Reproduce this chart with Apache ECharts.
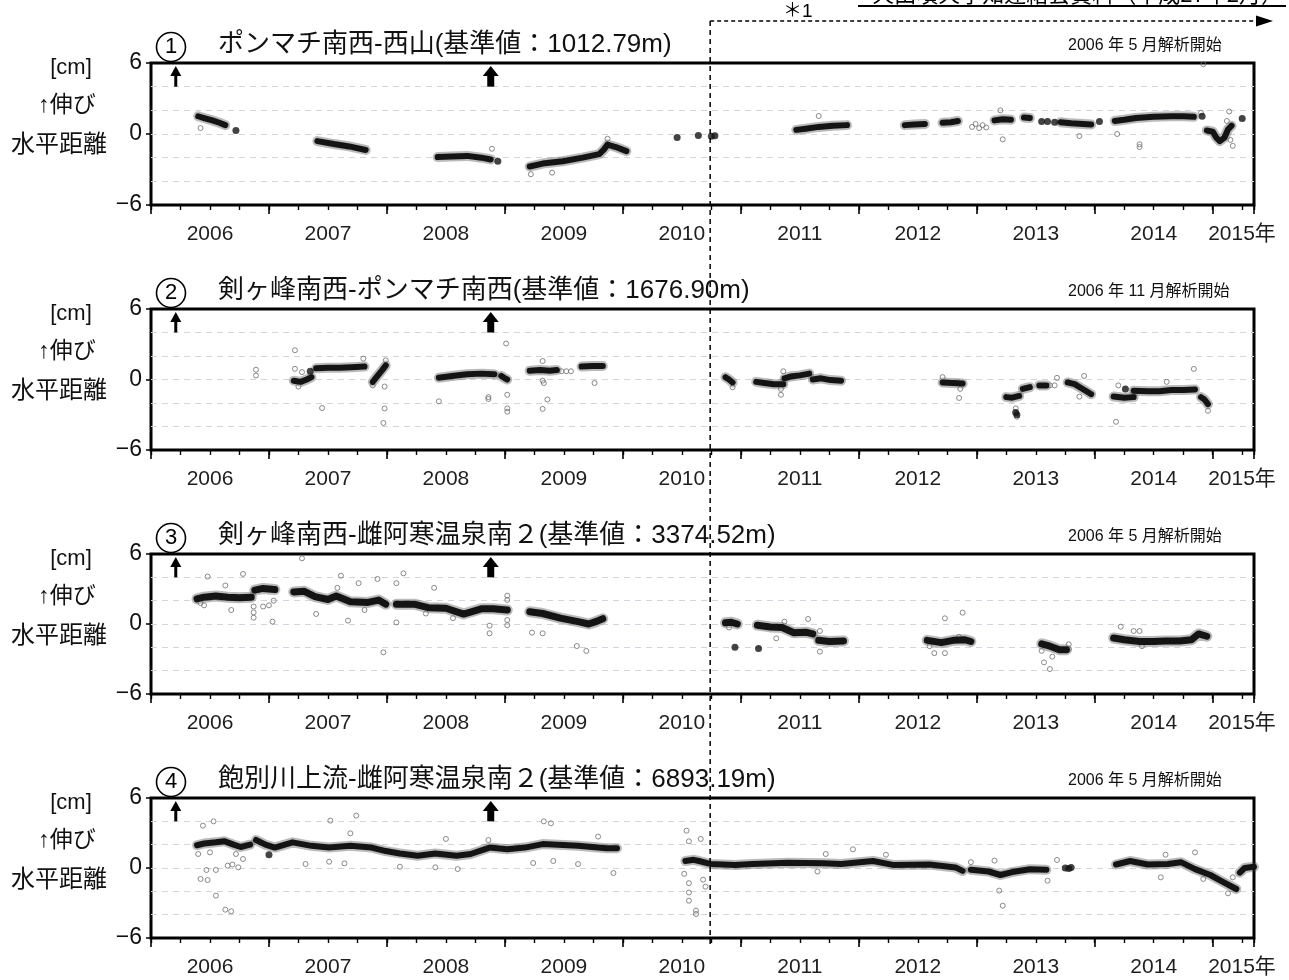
<!DOCTYPE html>
<html>
<head>
<meta charset="utf-8">
<script src="https://cdn.jsdelivr.net/npm/echarts@6/dist/echarts.min.js"></script>
<style>
  html, body { margin: 0; padding: 0; background: #fff; }
  #c { width: 1289px; height: 980px; }
</style>
</head>
<body>
<div id="c"></div>
<script>
// ---- time range and value range ----
const YEAR_MIN = 2006;
const YEAR_MAX = 2015.35;
const Y_MIN = -6;
const Y_MAX = 6;
const YEAR_LABELS = ['2006', '2007', '2008', '2009', '2010', '2011', '2012', '2013', '2014', '2015年'];

// equipment events (arrows) and the start of the new analysis (*1)
const EVENT_YEARS = [2006.21, 2008.88];
const ARROW_BASE = 4.0;
const BOUNDARY_YEAR = 2010.74;

// ---- baseline titles ----
const PANEL_NUMBERS = ['1', '2', '3', '4'];
const PANEL_TITLES = [
  'ポンマチ南西-西山(基準値：1012.79m)',
  '剣ヶ峰南西-ポンマチ南西(基準値：1676.90m)',
  '剣ヶ峰南西-雌阿寒温泉南２(基準値：3374.52m)',
  '飽別川上流-雌阿寒温泉南２(基準値：6893.19m)'
];
const PANEL_NOTES = ['2006 年 5 月解析開始', '2006 年 11 月解析開始', '2006 年 5 月解析開始', '2006 年 5 月解析開始'];

// ---- ① ポンマチ南西-西山 : dense runs, single dots, scattered solutions [year, cm] ----
const P1_RUNS = [
  [[2006.40, 1.5], [2006.45, 1.35], [2006.52, 1.15], [2006.58, 0.95], [2006.63, 0.75]],
  [[2007.41, -0.6], [2007.55, -0.85], [2007.68, -1.05], [2007.82, -1.35]],
  [[2008.43, -1.95], [2008.55, -1.9], [2008.68, -1.85], [2008.8, -2.0], [2008.88, -2.15]],
  [[2009.21, -2.75], [2009.32, -2.5], [2009.49, -2.3], [2009.66, -2.0], [2009.8, -1.7], [2009.84, -1.3], [2009.87, -0.9], [2009.94, -1.1], [2010.03, -1.45]],
  [[2011.47, 0.35], [2011.55, 0.45], [2011.66, 0.6], [2011.78, 0.7], [2011.9, 0.75]],
  [[2012.39, 0.75], [2012.47, 0.8], [2012.56, 0.85]],
  [[2012.71, 0.95], [2012.78, 1.0], [2012.84, 1.1]],
  [[2013.15, 1.15], [2013.22, 1.25], [2013.29, 1.2]],
  [[2013.40, 1.4], [2013.45, 1.35]],
  [[2013.71, 1.0], [2013.8, 0.9], [2013.9, 0.85], [2013.97, 0.8]],
  [[2014.17, 1.1], [2014.25, 1.2], [2014.35, 1.35], [2014.5, 1.45], [2014.65, 1.5], [2014.75, 1.5], [2014.84, 1.45]],
  [[2014.95, 0.3], [2015.0, 0.2], [2015.03, -0.3], [2015.06, -0.6], [2015.1, -0.3], [2015.13, 0.4], [2015.16, 0.7]]
];
const P1_DOTS = [[2006.72, 0.3], [2008.94, -2.3], [2010.46, -0.3], [2010.64, -0.12], [2010.75, -0.2], [2010.78, -0.15],
  [2013.55, 1.05], [2013.6, 1.05], [2013.66, 1.0], [2014.04, 1.05], [2014.91, 1.5], [2015.25, 1.3]];
const P1_SCATTER = [[2006.42, 0.5], [2008.89, -1.25], [2009.22, -3.4], [2009.4, -3.27], [2009.87, -0.4], [2011.66, 1.52],
  [2012.96, 0.6], [2012.99, 0.85], [2013.02, 0.5], [2013.05, 0.75], [2013.08, 0.55], [2013.2, 2.0], [2013.22, -0.45],
  [2013.87, -0.17], [2014.19, 0.0], [2014.38, -0.87], [2014.38, -1.1], [2014.92, 5.9], [2014.9, 1.8], [2015.14, 1.9],
  [2015.17, -1.0], [2015.15, -0.5], [2015.12, 1.1]];

// ---- ② 剣ヶ峰南西-ポンマチ南西 ----
const P2_RUNS = [
  [[2007.21, -0.1], [2007.27, -0.2], [2007.32, 0.0], [2007.36, 0.2]],
  [[2007.40, 0.95], [2007.5, 1.0], [2007.6, 1.0], [2007.7, 1.05], [2007.81, 1.1]],
  [[2007.88, -0.2], [2007.92, 0.3], [2007.96, 0.8], [2007.99, 1.2]],
  [[2008.44, 0.15], [2008.55, 0.3], [2008.68, 0.45], [2008.8, 0.5], [2008.91, 0.45]],
  [[2008.97, 0.3], [2009.0, 0.1], [2009.02, 0.0]],
  [[2009.21, 0.75], [2009.3, 0.8], [2009.38, 0.75], [2009.44, 0.8]],
  [[2009.65, 1.1], [2009.74, 1.15], [2009.83, 1.15]],
  [[2010.87, 0.2], [2010.9, 0.0], [2010.93, -0.25]],
  [[2011.13, -0.2], [2011.2, -0.3], [2011.28, -0.4], [2011.36, -0.4]],
  [[2011.37, 0.1], [2011.42, 0.25], [2011.5, 0.35], [2011.58, 0.5]],
  [[2011.61, 0.0], [2011.68, 0.1], [2011.76, -0.05], [2011.85, -0.1]],
  [[2012.71, -0.25], [2012.8, -0.3], [2012.88, -0.35]],
  [[2013.25, -1.5], [2013.3, -1.55], [2013.36, -1.4]],
  [[2013.39, -0.8], [2013.45, -0.65]],
  [[2013.53, -0.5], [2013.59, -0.5]],
  [[2013.77, -0.25], [2013.83, -0.4], [2013.88, -0.7], [2013.93, -1.0], [2013.97, -1.25]],
  [[2014.16, -1.45], [2014.25, -1.55], [2014.33, -1.5]],
  [[2014.33, -0.95], [2014.45, -1.0], [2014.55, -1.0], [2014.65, -0.9], [2014.75, -0.9], [2014.85, -0.85]],
  [[2014.9, -1.5], [2014.93, -1.7], [2014.96, -2.1]]
];
const P2_DOTS = [[2007.35, 0.7], [2013.33, -2.8], [2013.34, -3.0], [2014.26, -0.8]];
const P2_SCATTER = [[2006.89, 0.83], [2006.89, 0.34], [2007.22, 2.49], [2007.22, 0.91], [2007.28, 0.63], [2007.25, -0.6],
  [2007.45, -2.43], [2007.8, 1.77], [2007.88, -0.5], [2007.98, -0.6], [2007.99, 1.63], [2007.97, -3.7], [2007.98, -2.46],
  [2008.44, -1.86], [2008.86, -1.66], [2008.86, -1.5], [2009.01, 3.06], [2009.02, -1.3], [2009.02, -2.46], [2009.02, -2.74],
  [2009.32, -0.1], [2009.33, -0.3], [2009.36, -1.7], [2009.32, -2.5], [2009.32, 1.57], [2009.48, 0.7], [2009.52, 0.7],
  [2009.56, 0.7], [2009.76, -0.3], [2010.93, -0.66], [2011.34, -1.3], [2011.34, -0.8], [2011.36, 0.7], [2012.71, 0.2],
  [2012.85, -1.57], [2012.86, -0.8], [2013.33, -2.46], [2013.34, -3.17], [2013.62, -0.5], [2013.66, -0.5], [2013.68, 0.14],
  [2013.91, 0.3], [2013.87, -1.46], [2014.18, -3.6], [2014.2, -0.5], [2014.61, -0.2], [2014.84, 0.9], [2014.96, -2.66]];

// ---- ③ 剣ヶ峰南西-雌阿寒温泉南２ ----
const P3_RUNS = [
  [[2006.39, 2.15], [2006.45, 2.3], [2006.55, 2.4], [2006.65, 2.3], [2006.75, 2.25], [2006.85, 2.3]],
  [[2006.88, 2.9], [2006.95, 3.05], [2007.05, 2.95]],
  [[2007.21, 2.75], [2007.3, 2.8], [2007.39, 2.35], [2007.5, 2.1], [2007.57, 2.4], [2007.69, 1.9], [2007.84, 1.85], [2007.93, 2.05], [2007.99, 1.7]],
  [[2008.08, 1.7], [2008.23, 1.7], [2008.35, 1.4], [2008.5, 1.35], [2008.65, 0.85], [2008.8, 1.3], [2008.9, 1.3], [2009.02, 1.2]],
  [[2009.21, 1.05], [2009.32, 0.9], [2009.47, 0.5], [2009.62, 0.2], [2009.71, 0.0], [2009.77, 0.2], [2009.83, 0.45]],
  [[2010.87, 0.1], [2010.92, 0.15], [2010.97, 0.0]],
  [[2011.14, -0.1], [2011.25, -0.25], [2011.35, -0.3], [2011.45, -0.75], [2011.55, -0.7], [2011.61, -0.85]],
  [[2011.66, -1.4], [2011.75, -1.5], [2011.87, -1.45]],
  [[2012.58, -1.4], [2012.7, -1.6], [2012.8, -1.4], [2012.9, -1.35], [2012.95, -1.5]],
  [[2013.55, -1.7], [2013.62, -1.9], [2013.7, -2.2], [2013.76, -2.2]],
  [[2014.16, -1.2], [2014.25, -1.35], [2014.38, -1.5], [2014.5, -1.5], [2014.6, -1.45], [2014.72, -1.45], [2014.82, -1.35], [2014.88, -0.85], [2014.95, -1.05]]
];
const P3_DOTS = [[2010.95, -2.0], [2011.15, -2.1]];
const P3_SCATTER = [[2006.48, 4.06], [2006.78, 4.29], [2006.63, 3.3], [2006.45, 1.6], [2006.68, 1.2], [2006.87, 1.5],
  [2006.87, 1.0], [2006.87, 0.54], [2007.03, 0.2], [2007.0, 1.6], [2006.95, 1.5], [2007.04, 2.0], [2006.42, 1.8],
  [2007.28, 5.63], [2007.61, 4.14], [2007.58, 3.1], [2007.76, 3.5], [2007.92, 3.86], [2007.4, 0.86], [2007.67, 0.29],
  [2007.97, -2.43], [2007.81, 1.2], [2008.14, 4.34], [2008.08, 3.5], [2008.4, 3.1], [2008.08, 0.14], [2008.87, -0.8],
  [2008.87, -0.14], [2009.02, 2.43], [2009.02, 2.06], [2009.02, 0.34], [2009.02, -0.1], [2008.56, 0.5], [2008.33, 0.9],
  [2009.23, -0.74], [2009.32, -0.8], [2009.61, -1.89], [2009.69, -2.31], [2010.9, -0.3], [2011.57, 0.43], [2011.37, 0.2],
  [2011.3, -1.23], [2011.67, -0.6], [2011.67, -2.37], [2012.73, 0.49], [2012.88, 0.97], [2012.64, -2.5], [2012.73, -2.5],
  [2012.6, -1.9], [2012.85, -1.1], [2013.57, -3.29], [2013.62, -3.86], [2013.64, -2.8], [2013.78, -1.74], [2013.78, -2.14],
  [2013.55, -2.3], [2014.22, -0.23], [2014.33, -0.6], [2014.38, -0.6], [2014.4, -1.9]];

// ---- ④ 飽別川上流-雌阿寒温泉南２ ----
const P4_RUNS = [
  [[2006.39, 1.95], [2006.45, 2.1], [2006.55, 2.2], [2006.62, 2.3], [2006.7, 2.0], [2006.76, 1.8], [2006.84, 2.0]],
  [[2006.89, 2.4], [2006.97, 2.0], [2007.05, 1.75], [2007.2, 2.2], [2007.36, 1.9], [2007.51, 1.75], [2007.69, 1.9],
   [2007.87, 1.75], [2007.99, 1.45], [2008.11, 1.25], [2008.26, 1.05], [2008.41, 1.25], [2008.59, 1.05], [2008.71, 1.2],
   [2008.87, 1.75], [2009.02, 1.6], [2009.17, 1.75], [2009.32, 2.05], [2009.62, 1.9], [2009.86, 1.7], [2009.95, 1.7]],
  [[2010.53, 0.6], [2010.6, 0.7], [2010.645, 0.6], [2010.74, 0.35], [2010.95, 0.25], [2011.1, 0.35], [2011.4, 0.45],
   [2011.7, 0.4], [2011.85, 0.35], [2012.12, 0.6], [2012.3, 0.25], [2012.6, 0.3], [2012.82, 0.05], [2012.88, -0.25]],
  [[2012.95, -0.15], [2013.1, -0.3], [2013.2, -0.6], [2013.3, -0.35], [2013.45, -0.1], [2013.59, -0.15]],
  [[2014.18, 0.3], [2014.3, 0.6], [2014.45, 0.3], [2014.62, 0.35], [2014.73, 0.5], [2014.85, -0.1], [2014.98, -0.6],
   [2015.07, -1.1], [2015.2, -1.8]],
  [[2015.23, -0.4], [2015.27, 0.0], [2015.35, 0.1]]
];
const P4_DOTS = [[2013.75, 0.0], [2013.78, -0.05], [2013.8, 0.05], [2007.0, 1.14]];
const P4_SCATTER = [[2006.44, 3.63], [2006.53, 4.0], [2006.4, 1.2], [2006.5, 1.34], [2006.47, -0.17], [2006.55, -0.17],
  [2006.42, -0.94], [2006.48, -1.03], [2006.55, -2.37], [2006.63, -3.57], [2006.68, -3.71], [2006.65, 0.2], [2006.74, 0.06],
  [2006.72, 1.2], [2006.78, 0.77], [2006.69, 0.3], [2007.52, 4.06], [2007.74, 4.49], [2007.69, 2.97], [2009.33, 4.0],
  [2009.39, 3.83], [2008.5, 2.49], [2008.86, 2.4], [2009.79, 2.69], [2007.31, 0.34], [2007.51, 0.54], [2007.64, 0.4],
  [2008.11, 0.11], [2008.41, 0.06], [2008.6, -0.09], [2009.92, -0.43], [2009.24, 0.43], [2009.62, 0.34], [2009.41, 0.6],
  [2010.54, 3.2], [2010.56, 2.29], [2010.52, -0.5], [2010.56, -1.3], [2010.56, -2.1], [2010.56, -2.8], [2010.62, -3.66],
  [2010.62, -3.94], [2010.66, 2.49], [2010.68, -1.0], [2010.7, -1.6], [2011.72, 1.2], [2011.95, 1.6], [2012.23, 1.14],
  [2011.65, -0.3], [2012.95, 0.5], [2013.19, -1.94], [2013.22, -3.23], [2013.15, 0.63], [2013.6, -1.09], [2013.68, 0.69],
  [2014.6, 1.14], [2014.85, 1.34], [2015.13, -2.17], [2015.17, -0.8], [2014.92, -0.94], [2014.56, -0.8]];

const PANEL_DATA = [
  { runs: P1_RUNS, dots: P1_DOTS, scatter: P1_SCATTER },
  { runs: P2_RUNS, dots: P2_DOTS, scatter: P2_SCATTER },
  { runs: P3_RUNS, dots: P3_DOTS, scatter: P3_SCATTER },
  { runs: P4_RUNS, dots: P4_DOTS, scatter: P4_SCATTER }
];

// ---- layout ----
const GRID_TOPS = [63, 309, 554, 798];
const GRID_HEIGHTS = [142, 141, 140, 140];
const GRID_LEFT = 151;
const GRID_RIGHT = 35;
const RUN_WIDTHS = [6, 6, 7, 6];
const ARROW_SHAPES = [ { hw: 5.5, hh: 10, sw: 3 }, { hw: 8, hh: 10, sw: 7 } ];

const LATIN = "'Liberation Sans', Arial, Helvetica, 'Noto Sans CJK JP', sans-serif";

function yearLabel(v) {
  if (Math.abs(v - YEAR_MAX) < 1e-6) return '{last|' + YEAR_LABELS[YEAR_LABELS.length - 1] + '}';
  const frac = v - Math.floor(v);
  if (Math.abs(frac - 0.5) < 1e-6) {
    const idx = Math.floor(v) - YEAR_MIN;
    if (idx >= 0 && idx < YEAR_LABELS.length - 1) return YEAR_LABELS[idx];
  }
  return '';
}

function renderArrow(params, api) {
  const k = api.value(1);
  const s = ARROW_SHAPES[k];
  const top = api.coord([api.value(0), Y_MAX]);
  const base = api.coord([api.value(0), ARROW_BASE]);
  const x = top[0];
  const y0 = top[1] + 3;
  return {
    type: 'group',
    children: [
      { type: 'polygon', shape: { points: [[x - s.hw, y0 + s.hh], [x, y0], [x + s.hw, y0 + s.hh]] }, style: { fill: '#000' } },
      { type: 'rect', shape: { x: x - s.sw / 2, y: y0 + s.hh - 1, width: s.sw, height: base[1] - (y0 + s.hh - 1) }, style: { fill: '#000' } }
    ]
  };
}

const grids = [], xAxes = [], yAxes = [], series = [];

PANEL_DATA.forEach((pd, i) => {
  grids.push({
    left: GRID_LEFT, right: GRID_RIGHT, top: GRID_TOPS[i], height: GRID_HEIGHTS[i],
    show: true, borderColor: '#000', borderWidth: 3, backgroundColor: '#fff'
  });

  // year labels (centred on mid-year)
  xAxes.push({
    gridIndex: i, type: 'value', min: YEAR_MIN, max: YEAR_MAX, interval: 0.5, position: 'bottom',
    axisLine: { show: false, onZero: false }, axisTick: { show: false }, splitLine: { show: false },
    axisLabel: {
      show: true, margin: 19, fontSize: 21, color: '#1e1e1e', fontFamily: LATIN,
      showMinLabel: true, showMaxLabel: true, formatter: yearLabel,
      rich: { last: { fontSize: 21, color: '#1e1e1e', fontFamily: LATIN, padding: [0, 24, 0, 0] } }
    }
  });
  // long ticks at year boundaries
  xAxes.push({
    gridIndex: i, type: 'value', min: YEAR_MIN, max: YEAR_MAX, interval: 1, position: 'bottom',
    axisLine: { show: false, onZero: false }, splitLine: { show: false }, axisLabel: { show: false },
    axisTick: { show: true, length: 9, lineStyle: { color: '#000', width: 1.6 } }
  });
  // short ticks each quarter
  xAxes.push({
    gridIndex: i, type: 'value', min: YEAR_MIN, max: YEAR_MAX, interval: 0.25, position: 'bottom',
    axisLine: { show: false, onZero: false }, splitLine: { show: false }, axisLabel: { show: false },
    axisTick: { show: true, length: 5, lineStyle: { color: '#000', width: 1.4 } }
  });

  yAxes.push({
    gridIndex: i, type: 'value', min: Y_MIN, max: Y_MAX, interval: 6, position: 'left',
    axisLine: { show: false, onZero: false }, splitLine: { show: false },
    axisTick: { show: true, length: 5, lineStyle: { color: '#000', width: 1.5 } },
    axisLabel: {
      margin: 9, fontSize: 23, color: '#111', fontFamily: LATIN, padding: [8, 0, 0, 0],
      formatter: v => (v < 0 ? '\u2212' + Math.abs(v) : String(v))
    }
  });
  yAxes.push({
    gridIndex: i, type: 'value', min: Y_MIN, max: Y_MAX, interval: 2, position: 'left',
    axisLine: { show: false, onZero: false }, axisTick: { show: false }, axisLabel: { show: false },
    splitLine: { show: true, showMinLine: false, showMaxLine: false, lineStyle: { color: '#d8d2de', type: [6, 5], width: 1 } }
  });

  const xi = 3 * i, yi = 2 * i;

  series.push({
    type: 'scatter', xAxisIndex: xi, yAxisIndex: yi, data: pd.scatter, symbol: 'circle', symbolSize: 5,
    itemStyle: { color: 'rgba(255,255,255,0)', borderColor: '#6e6e6e', borderWidth: 1 },
    silent: true, animation: false, z: 2
  });
  pd.runs.forEach(run => {
    // soft halo around each dense run of daily solutions
    series.push({
      type: 'line', xAxisIndex: xi, yAxisIndex: yi, data: run, showSymbol: false, symbol: 'none',
      lineStyle: { color: 'rgba(60,60,60,0.35)', width: RUN_WIDTHS[i] + 4, cap: 'round', join: 'round' },
      silent: true, animation: false, z: 2
    });
    series.push({
      type: 'line', xAxisIndex: xi, yAxisIndex: yi, data: run, showSymbol: false, symbol: 'none',
      lineStyle: { color: '#141414', width: RUN_WIDTHS[i], cap: 'round', join: 'round' },
      silent: true, animation: false, z: 3
    });
  });
  series.push({
    type: 'scatter', xAxisIndex: xi, yAxisIndex: yi, data: pd.dots, symbol: 'circle', symbolSize: 7,
    itemStyle: { color: '#141414' }, silent: true, animation: false, z: 3
  });
  series.push({
    type: 'custom', xAxisIndex: xi, yAxisIndex: yi, data: EVENT_YEARS.map((x, k) => [x, k]),
    renderItem: renderArrow, silent: true, animation: false, z: 6, clip: false
  });
});

const chart = echarts.init(document.getElementById('c'), null, { renderer: 'canvas' });
chart.setOption({
  backgroundColor: '#fff',
  animation: false,
  grid: grids,
  xAxis: xAxes,
  yAxis: yAxes,
  series: series
});

// ---- headings, side captions and the *1 boundary marker ----
const graphics = [];
GRID_TOPS.forEach((T, i) => {
  graphics.push({ type: 'circle', shape: { cx: 171, cy: T - 16, r: 14.5 }, style: { fill: 'none', stroke: '#000', lineWidth: 1.6 }, z: 20 });
  graphics.push({ type: 'text', x: 171, y: T - 16, style: { text: PANEL_NUMBERS[i], font: "22px 'Liberation Sans', Arial", fill: '#000', align: 'center', verticalAlign: 'middle' }, z: 20 });
  graphics.push({ type: 'text', x: 218, y: T - 18, style: { text: PANEL_TITLES[i], font: "26px 'Liberation Sans', 'Noto Sans CJK JP', sans-serif", fill: '#111', align: 'left', verticalAlign: 'middle' }, z: 20 });
  graphics.push({ type: 'text', x: 1068, y: T - 17, style: { text: PANEL_NOTES[i], font: "16px 'Liberation Sans', 'Noto Sans CJK JP', sans-serif", fill: '#111', align: 'left', verticalAlign: 'middle' }, z: 20 });
  graphics.push({ type: 'text', x: 71, y: T + 5, style: { text: '[cm]', font: "22px 'Liberation Sans', Arial", fill: '#111', align: 'center', verticalAlign: 'middle' }, z: 20 });
  graphics.push({ type: 'text', x: 67, y: T + 43, style: { text: '↑伸び', font: "23px 'Liberation Sans', 'Noto Sans CJK JP', sans-serif", fill: '#111', align: 'center', verticalAlign: 'middle' }, z: 20 });
  graphics.push({ type: 'text', x: 59, y: T + 80, style: { text: '水平距離', font: "24px 'Noto Sans CJK JP', sans-serif", fill: '#111', align: 'center', verticalAlign: 'middle' }, z: 20 });
});

const bx = chart.convertToPixel({ xAxisIndex: 0 }, BOUNDARY_YEAR);
const lastBottom = GRID_TOPS[3] + GRID_HEIGHTS[3];
graphics.push({ type: 'line', shape: { x1: bx, y1: 21, x2: bx, y2: lastBottom + 6 }, style: { stroke: '#000', lineWidth: 1.5, lineDash: [5, 4] }, z: 30 });
graphics.push({ type: 'line', shape: { x1: bx, y1: 21, x2: 1256, y2: 21 }, style: { stroke: '#000', lineWidth: 1.3, lineDash: [4, 3] }, z: 30 });
graphics.push({ type: 'polygon', shape: { points: [[1256, 15.5], [1273, 21], [1256, 26.5]] }, style: { fill: '#000' }, z: 30 });
graphics.push({ type: 'text', x: 783, y: 12, style: { text: '＊1', font: "19px 'Liberation Sans', 'Noto Sans CJK JP', sans-serif", fill: '#000', align: 'left', verticalAlign: 'middle' }, z: 30 });
graphics.push({ type: 'line', shape: { x1: 858, y1: 6, x2: 1286, y2: 6 }, style: { stroke: '#000', lineWidth: 2 }, z: 30 });
graphics.push({ type: 'text', x: 1283, y: 5, style: { text: '火山噴火予知連絡会資料（平成27年2月）', font: "22px 'Noto Sans CJK JP', sans-serif", fill: '#000', align: 'right', verticalAlign: 'bottom' }, z: 30 });

chart.setOption({ graphic: graphics });
</script>
</body>
</html>
